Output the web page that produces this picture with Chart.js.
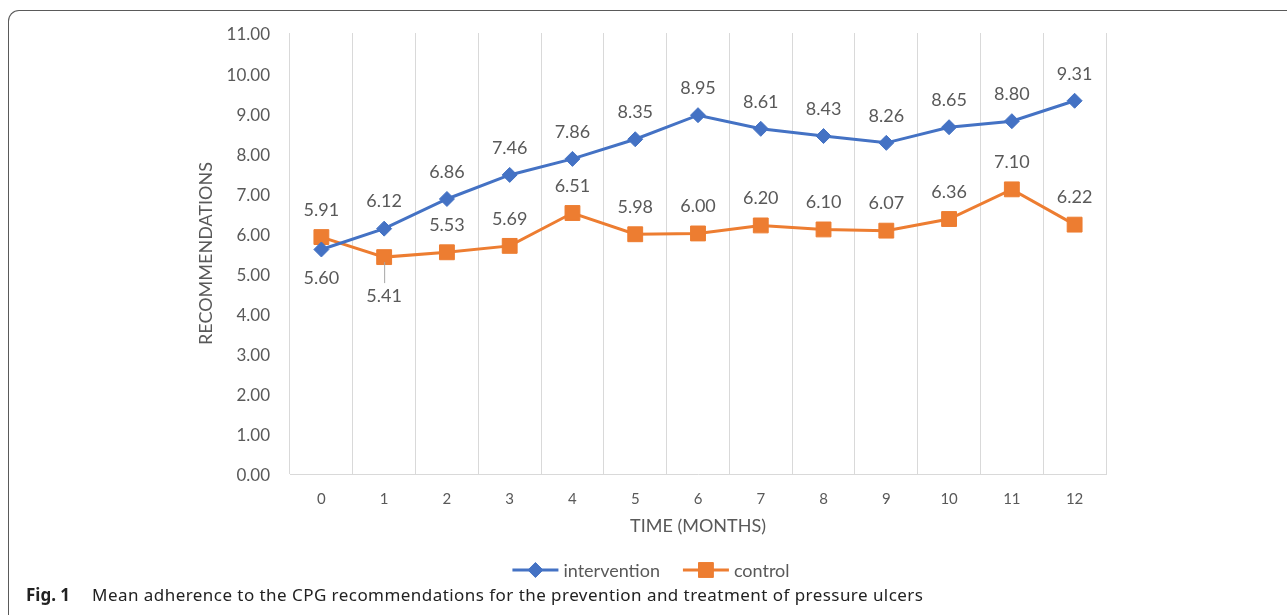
<!DOCTYPE html>
<html><head><meta charset="utf-8">
<script src="https://cdn.jsdelivr.net/npm/chart.js@4"></script>
<style>
html,body{margin:0;padding:0;background:#fff;width:1287px;height:615px;overflow:hidden;}
#frame{position:absolute;left:8px;top:10px;width:1400px;height:700px;border-left:1.5px solid #5a5a5a;border-top:1.5px solid #5a5a5a;border-top-left-radius:11px;box-sizing:border-box;}
#wrap{position:absolute;left:0;top:0;width:1287px;height:615px;}
#caption{position:absolute;left:26px;top:583px;font-family:"Noto Sans";font-size:17px;letter-spacing:0.45px;color:#222;white-space:nowrap;}
#caption b{font-weight:700;letter-spacing:0;margin-right:22px;}
</style></head>
<body>
<div id="frame"></div>
<div id="wrap"><canvas id="c" width="1287" height="615"></canvas></div>
<div id="caption"><b>Fig. 1</b>Mean adherence to the CPG recommendations for the prevention and treatment of pressure ulcers</div>
<script>
const months = ['0','1','2','3','4','5','6','7','8','9','10','11','12'];
const intervention = [5.60, 6.12, 6.86, 7.46, 7.86, 8.35, 8.95, 8.61, 8.43, 8.26, 8.65, 8.80, 9.31];
const control = [5.91, 5.41, 5.53, 5.69, 6.51, 5.98, 6.00, 6.20, 6.10, 6.07, 6.36, 7.10, 6.22];
const seriesNames = ['intervention', 'control'];
const yAxisTitle = 'RECOMMENDATIONS';
const xAxisTitle = 'TIME (MONTHS)';

const BLUE = '#4472C4', ORANGE = '#ED7D31', TXT = '#595959';
// label placement (style): indices whose value label sits below the point
const labelsBelow = [[0], [1]];
const leaderLines = [[], [1]];

const valueLabels = {
  id: 'valueLabels',
  afterDatasetsDraw(chart) {
    const ctx = chart.ctx;
    ctx.save();
    ctx.font = '18px Lato';
    ctx.fillStyle = TXT;
    ctx.textAlign = 'center';
    ctx.textBaseline = 'middle';
    chart.data.datasets.forEach((ds, di) => {
      const meta = chart.getDatasetMeta(di);
      meta.data.forEach((pt, i) => {
        const below = labelsBelow[di].includes(i);
        const leader = leaderLines[di].includes(i);
        const off = leader ? 38 : 28;
        const y = below ? pt.y + off : pt.y - off;
        if (leader) {
          ctx.save();
          ctx.strokeStyle = '#A6A6A6';
          ctx.lineWidth = 1;
          ctx.beginPath();
          ctx.moveTo(pt.x + 0.5, pt.y + 5);
          ctx.lineTo(pt.x + 0.5, y - 12);
          ctx.stroke();
          ctx.restore();
        }
        ctx.fillText(ds.data[i].toFixed(2), pt.x, y + 1);
      });
    });
    ctx.restore();
  }
};

const customLegend = {
  id: 'customLegend',
  afterDraw(chart) {
    const ctx = chart.ctx;
    ctx.save();
    ctx.font = '18px Lato';
    const lineLen = 46, gapText = 5, gapItem = 23;
    const items = chart.data.datasets.map(ds => ({ds, w: lineLen + gapText + ctx.measureText(ds.label).width}));
    const total = items.reduce((a, b) => a + b.w, 0) + gapItem * (items.length - 1);
    let x = 651 - total / 2;
    const y = 570;
    items.forEach(({ds, w}) => {
      ctx.strokeStyle = ds.borderColor;
      ctx.lineWidth = 3;
      ctx.beginPath();
      ctx.moveTo(x, y);
      ctx.lineTo(x + lineLen, y);
      ctx.stroke();
      ctx.fillStyle = ds.borderColor;
      ctx.strokeStyle = ds.borderColor;
      ctx.lineWidth = 1;
      Chart.helpers.drawPoint(ctx, {pointStyle: ds.pointStyle, radius: ds.pointRadius, borderWidth: 1, rotation: 0}, x + lineLen / 2, y);
      ctx.fillStyle = TXT;
      ctx.textAlign = 'left';
      ctx.textBaseline = 'middle';
      ctx.fillText(ds.label, x + lineLen + gapText, y + 1);
      x += w + gapItem;
    });
    ctx.restore();
  }
};

new Chart(document.getElementById('c'), {
  type: 'line',
  data: {
    labels: months,
    datasets: [
      {label: seriesNames[0], data: intervention, borderColor: BLUE, backgroundColor: BLUE, borderWidth: 3,
       pointStyle: 'rectRot', pointRadius: 7.5, pointBorderWidth: 1, pointBackgroundColor: BLUE, pointBorderColor: BLUE, tension: 0},
      {label: seriesNames[1], data: control, borderColor: ORANGE, backgroundColor: ORANGE, borderWidth: 3,
       pointStyle: 'rect', pointRadius: 10.5, pointBorderWidth: 1, pointBackgroundColor: ORANGE, pointBorderColor: ORANGE, tension: 0}
    ]
  },
  options: {
    responsive: false,
    animation: false,
    layout: {padding: {left: 195, right: 181, top: 33, bottom: 78}},
    plugins: {legend: {display: false}, tooltip: {enabled: false}},
    scales: {
      x: {
        offset: true,
        grid: {offset: true, color: '#D9D9D9', lineWidth: 1, drawTicks: false},
        border: {display: true, color: '#D9D9D9', width: 1},
        ticks: {color: TXT, font: {family: 'Lato', size: 15}, padding: 16, maxRotation: 0},
        title: {display: true, text: xAxisTitle, color: TXT, font: {family: 'Lato', size: 18}, padding: {top: 6, bottom: 0}},
        afterFit(s) { s.height = 63; }
      },
      y: {
        min: 0, max: 11,
        grid: {display: false, drawTicks: false},
        border: {display: false},
        ticks: {stepSize: 1, color: TXT, font: {family: 'Lato', size: 17}, padding: 20, labelOffset: 2, callback: v => Number(v).toFixed(2)},
        title: {display: true, text: yAxisTitle, color: TXT, font: {family: 'Lato', size: 18}, padding: 0},
        afterFit(s) { s.width = 95; }
      }
    }
  },
  plugins: [valueLabels, customLegend]
});
</script>
</body></html>
